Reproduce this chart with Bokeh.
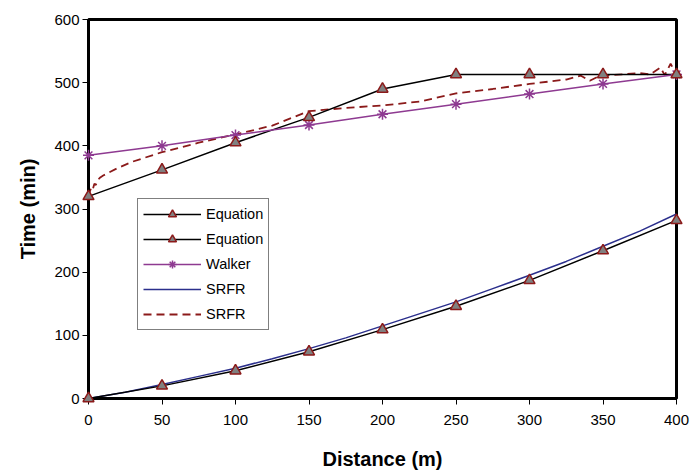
from bokeh.plotting import figure
from bokeh.models import Range1d, Legend, LegendItem, FixedTicker
from bokeh.embed import file_html
from bokeh.resources import INLINE

# Data
eq_x = [0, 50, 100, 150, 200, 250, 300, 350, 400]
eq_lower = [0, 20, 44, 74, 109, 146, 187, 234, 282]
eq_upper = [320, 362, 405, 445, 490, 513, 513, 513, 513]

walker_x = [0, 50, 100, 150, 200, 250, 300, 350, 400]
walker_y = [385, 400, 417, 433, 450, 466, 482, 498, 513]

srfr_lo_x = [0, 25, 50, 75, 100, 125, 150, 175, 200, 225, 250, 275, 300, 325, 350, 375, 400]
srfr_lo_y = [0, 10, 22, 35, 48, 63, 79, 96, 115, 134, 153, 174, 195, 217, 241, 265, 292]

srfr_up_x = [0, 1, 2, 3, 4, 5, 6, 8, 10, 20, 30, 50, 75, 100, 125, 150, 175, 200, 225, 250,
             275, 300, 325, 335, 341, 348, 375, 382, 389, 392, 396, 400]
srfr_up_y = [320, 328, 335, 332, 340, 338, 345, 350, 353, 365, 375, 390, 405, 418, 432, 455,
             460, 464, 470, 483, 490, 498, 505, 511, 503, 511, 515, 513, 524, 512, 530, 513]

FONT = "Liberation Sans"

p = figure(width=694, height=473, output_backend="svg", toolbar_location=None,
           x_range=Range1d(0, 400), y_range=Range1d(0, 600),
           min_border_left=88, min_border_right=18, min_border_top=19, min_border_bottom=75)

p.background_fill_color = "white"
p.border_fill_color = "white"
p.outline_line_color = "black"
p.outline_line_width = 3
p.xgrid.visible = False
p.ygrid.visible = False

p.xaxis.ticker = FixedTicker(ticks=list(range(0, 401, 50)))
p.yaxis.ticker = FixedTicker(ticks=list(range(0, 601, 100)))
for ax in (p.xaxis[0], p.yaxis[0]):
    ax.axis_line_width = 3
    ax.axis_line_color = "black"
    ax.major_tick_line_color = "black"
    ax.major_tick_line_width = 1
    ax.major_tick_out = 6
    ax.major_tick_in = 0
    ax.minor_tick_line_color = None
    ax.major_label_text_font = FONT
    ax.major_label_text_font_size = "15px"
    ax.major_label_text_color = "black"
    ax.axis_label_text_font = FONT
    ax.axis_label_text_font_size = "20px"
    ax.axis_label_text_font_style = "bold"
    ax.axis_label_text_color = "black"
p.xaxis.axis_label = "Distance (m)"
p.yaxis.axis_label = "Time (min)"
p.xaxis.major_label_standoff = 10
p.yaxis.major_label_standoff = 3
p.xaxis.axis_label_standoff = 20
p.yaxis.axis_label_standoff = 12

tri_fill = "#808080"
tri_line = "#8B1A1A"
purple = "#8E3A91"
navy = "#2B2F8C"
darkred = "#8B1A1A"

srfr_lo = p.line(srfr_lo_x, srfr_lo_y, line_color=navy, line_width=1.5)
srfr_up = p.line(srfr_up_x, srfr_up_y, line_color=darkred, line_width=1.8, line_dash="8 5")

eq1_l = p.line(eq_x, eq_lower, line_color="black", line_width=1.5)
eq2_l = p.line(eq_x, eq_upper, line_color="black", line_width=1.5)
wk_l = p.line(walker_x, walker_y, line_color=purple, line_width=1.5)

wk_m = p.scatter(walker_x, walker_y, marker="asterisk", size=11, line_color=purple, line_width=1.5, level="overlay")
eq1_m = p.scatter(eq_x, eq_lower, marker="triangle", size=11, fill_color=tri_fill, line_color=tri_line, line_width=1.5, level="overlay")
eq2_m = p.scatter(eq_x, eq_upper, marker="triangle", size=11, fill_color=tri_fill, line_color=tri_line, line_width=1.5, level="overlay")

legend = Legend(items=[
    LegendItem(label="Equation", renderers=[eq1_l, eq1_m]),
    LegendItem(label="Equation", renderers=[eq2_l, eq2_m]),
    LegendItem(label="Walker", renderers=[wk_l, wk_m]),
    LegendItem(label="SRFR", renderers=[srfr_lo]),
    LegendItem(label="SRFR", renderers=[srfr_up]),
], location=(49, 68))
legend.border_line_color = "black"
legend.border_line_width = 1
legend.background_fill_color = "white"
legend.background_fill_alpha = 1
legend.label_text_font = FONT
legend.label_text_font_size = "14.5px"
legend.label_text_color = "black"
legend.glyph_width = 58
legend.glyph_height = 20
legend.spacing = 5
legend.padding = 5
legend.margin = 0
legend.label_standoff = 5
p.add_layout(legend, "center")

open("out.html", "w").write(file_html(p, INLINE))
